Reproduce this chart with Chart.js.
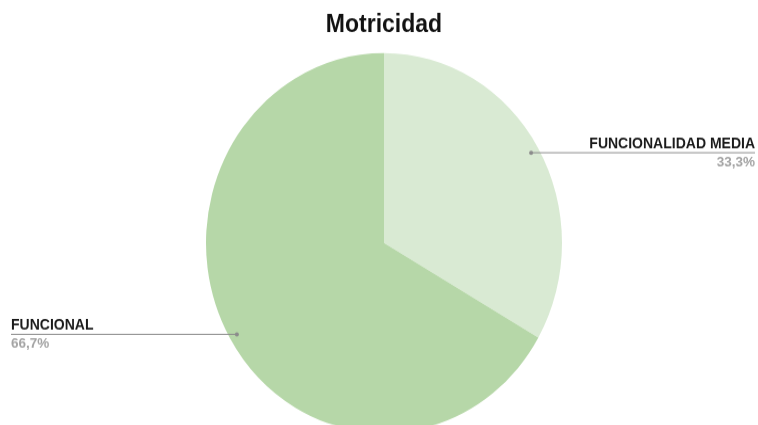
<!DOCTYPE html>
<html lang="es">
<head>
  <meta charset="UTF-8">
  <title>Motricidad</title>
  <script src="https://cdn.jsdelivr.net/npm/chart.js"></script>
  <style>
    body {
      margin: 0;
      background: #ffffff;
    }
    .marco {
      width: 758px;
      height: 425px;
      overflow: hidden;
    }
  </style>
</head>
<body>
  <div class="marco">
    <canvas id="grafico" width="758" height="420" style="width:758px;height:448px;display:block"></canvas>
  </div>

  <script>
const titulo = 'Motricidad';
const categorias = ['FUNCIONALIDAD MEDIA', 'FUNCIONAL'];
const porcentajes = [33.3, 66.7];
const colores = ['#d9ead3', '#b6d7a8'];

const fuente = "'Liberation Sans', Arial, sans-serif";

// etiquetas con linea guia: nombre encima de la linea, porcentaje debajo
const etiquetasGuia = {
  id: 'etiquetasGuia',
  afterDatasetsDraw(chart) {
    const ctx = chart.ctx;
    const arcos = chart.getDatasetMeta(0).data;
    ctx.save();
    arcos.forEach((arco, i) => {
      const medio = (arco.startAngle + arco.endAngle) / 2;
      const r = arco.outerRadius * 0.955;
      const px = arco.x + Math.cos(medio) * r;
      const py = arco.y + Math.sin(medio) * r;
      const derecha = Math.cos(medio) > 0;
      const xFin = derecha ? chart.width - 3 : 11;

      ctx.strokeStyle = '#8c8c8c';
      ctx.lineWidth = 1;
      ctx.beginPath();
      ctx.moveTo(px, py + 0.5);
      ctx.lineTo(xFin, py + 0.5);
      ctx.stroke();

      ctx.fillStyle = '#8c8c8c';
      ctx.beginPath();
      ctx.arc(px, py + 0.5, 2, 0, Math.PI * 2);
      ctx.fill();

      ctx.textAlign = derecha ? 'right' : 'left';
      ctx.textBaseline = 'alphabetic';
      ctx.font = 'bold 14px ' + fuente;
      ctx.fillStyle = '#1a1a1a';
      ctx.fillText(categorias[i], xFin, py - 3.5);

      ctx.font = 'bold 13.5px ' + fuente;
      ctx.fillStyle = '#a3a3a3';
      ctx.fillText(porcentajes[i].toFixed(1).replace('.', ',') + '%', xFin, py + 13.5);
    });
    ctx.restore();
  }
};

new Chart(document.getElementById('grafico').getContext('2d'), {
  type: 'pie',
  data: {
    labels: categorias,
    datasets: [{
      data: porcentajes,
      backgroundColor: colores,
      borderWidth: 0,
      hoverOffset: 0
    }]
  },
  options: {
    responsive: false,
    animation: false,
    layout: {
      padding: { top: 0, left: 206, right: 196, bottom: 14 }
    },
    plugins: {
      legend: { display: false },
      tooltip: { enabled: false },
      title: {
        display: true,
        text: titulo,
        color: '#111111',
        font: { family: fuente, size: 23, weight: 'bold' },
        padding: { top: 10, bottom: 12 }
      }
    }
  },
  plugins: [etiquetasGuia]
});
</script>
</body>
</html>
